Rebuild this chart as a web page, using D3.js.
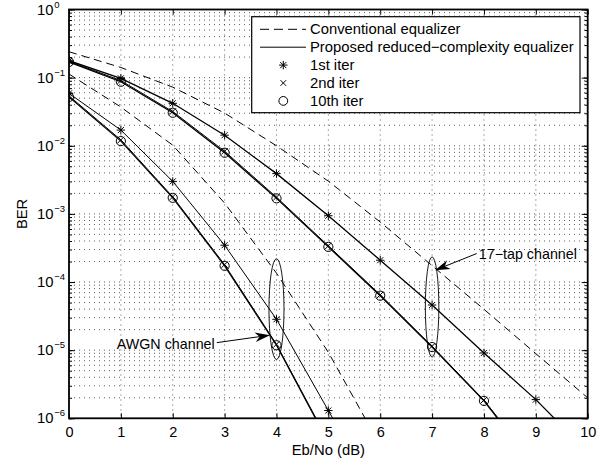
<!DOCTYPE html>
<html><head><meta charset="utf-8">
<script src="https://cdn.jsdelivr.net/npm/d3@7"></script>
<style>body{margin:0;background:#fff}svg{display:block}</style>
</head><body><svg id="c" width="611" height="464"></svg>
<script>
// ---------- data ----------
const ebno = [0,1,2,3,4,5,6,7,8,9,10];
const tapConv   = [0.24, 0.141, 0.0724, 0.0302, 0.0100, 0.00302, 7.6e-4, 1.74e-4, 3.98e-5, 8.9e-6, 2.0e-6];
const tapIter1  = [0.177, 0.0975, 0.042, 0.0143, 0.0039, 9.4e-4, 2.09e-4, 4.6e-5, 9.1e-6, 1.88e-6, 3.2e-7];
const tapIter2  = [0.174, 0.0905, 0.0318, 0.0083, 1.76e-3, 3.40e-4, 6.5e-5, 1.14e-5, 1.85e-6, 2.0e-7];
const tapIter10 = [0.170, 0.087, 0.0305, 0.0079, 1.69e-3, 3.28e-4, 6.3e-5, 1.11e-5, 1.8e-6, 1.9e-7];
const awgnConv   = [0.113, 0.037, 0.0102, 1.44e-3, 1.35e-4, 9.3e-6, 4.0e-7];
const awgnIter1  = [0.0587, 0.017, 0.0030, 3.47e-4, 2.84e-5, 1.3e-6, 6e-8];
const awgnIter2  = [0.0540, 0.0122, 1.78e-3, 1.80e-4, 1.22e-5, 4.6e-7];
const awgnIter10 = [0.0520, 0.0117, 1.72e-3, 1.73e-4, 1.18e-5, 4.4e-7];

const xTickValues = [0,1,2,3,4,5,6,7,8,9,10];
const yTickExponents = [0,-1,-2,-3,-4,-5,-6];
const legendLabels = ["Conventional equalizer", "Proposed reduced\u2212complexity equalizer", "1st iter", "2nd iter", "10th iter"];
const xLabel = "Eb/No (dB)";
const yLabel = "BER";
// annotations in data coordinates
const ellipses = [
  {x: 4, top: 2.2e-4, bottom: 7.3e-6, hw: 0.145},
  {x: 7, top: 2.34e-4, bottom: 7.9e-6, hw: 0.13}
];
const annotations = [
  {text: "AWGN channel", tx: 0.92, ty: 1.25e-5, x0: 2.85, y0: 1.29e-5, x1: 3.875, y1: 1.66e-5},
  {text: "17\u2212tap channel", tx: 7.9, ty: 2.62e-4, x0: 7.86, y0: 2.62e-4, x1: 7.056, y1: 1.49e-4}
];

// ---------- layout ----------
const L = 69, R = 587.7, T = 9.5, B = 418.3;
const FONT = "'Liberation Sans', Arial, Helvetica, sans-serif";
const svg = d3.select("#c").style("font-family", FONT);
const x = d3.scaleLinear().domain([0,10]).range([L,R]);
const y = d3.scaleLog().domain([1e-6,1]).range([B,T]);

svg.append("rect").attr("width",611).attr("height",464).attr("fill","#fff");
svg.append("defs").append("clipPath").attr("id","clip")
  .append("rect").attr("x",L).attr("y",T).attr("width",R-L).attr("height",B-T);

// minor y values
const yMinor = [];
for (let e=-6; e<0; e++) for (let m=1; m<10; m++) yMinor.push(m*Math.pow(10,e));
yMinor.push(1);

// ---------- grid ----------
const grid = svg.append("g").attr("stroke","#333").attr("stroke-width",0.8).attr("stroke-dasharray","1,4");
grid.selectAll("line.v").data(xTickValues.filter(d=>d>0&&d<10)).join("line")
  .attr("x1",d=>x(d)).attr("x2",d=>x(d)).attr("y1",T).attr("y2",B);
grid.selectAll("line.h").data(yMinor.filter(d=>d>1e-6&&d<1)).join("line")
  .attr("class","h").attr("x1",L).attr("x2",R).attr("y1",d=>y(d)).attr("y2",d=>y(d));

// ---------- axes ----------
const ax = svg.append("g");
const bottomAxis = d3.axisBottom(x).tickValues(xTickValues).tickSizeInner(-5).tickSizeOuter(0).tickFormat(d3.format("d"));
const gb = ax.append("g").attr("transform",`translate(0,${B})`).call(bottomAxis);
gb.selectAll("text").attr("y",14).attr("dy","0").attr("dominant-baseline","central").attr("font-size",14.5).attr("font-family",FONT).attr("fill","#000");
ax.append("g").attr("transform",`translate(0,${T})`).call(d3.axisTop(x).tickValues(xTickValues).tickSizeInner(-5).tickSizeOuter(0).tickFormat(""));
const majorY = yTickExponents.map(e=>Math.pow(10,e));
ax.append("g").attr("transform",`translate(${L},0)`).call(d3.axisLeft(y).tickValues(majorY).tickSizeInner(-6).tickSizeOuter(0).tickFormat(""));
ax.append("g").attr("transform",`translate(${L},0)`).call(d3.axisLeft(y).tickValues(yMinor).tickSizeInner(-3).tickSizeOuter(0).tickFormat(""));
ax.append("g").attr("transform",`translate(${R},0)`).call(d3.axisRight(y).tickValues(majorY).tickSizeInner(-6).tickSizeOuter(0).tickFormat(""));
ax.append("g").attr("transform",`translate(${R},0)`).call(d3.axisRight(y).tickValues(yMinor).tickSizeInner(-3).tickSizeOuter(0).tickFormat(""));
ax.selectAll(".domain").remove();
ax.selectAll(".tick line").attr("stroke","#000").attr("stroke-width",1);

// y tick labels 10^e
const yl = svg.append("g").attr("font-size",14.8).attr("fill","#000");
yTickExponents.forEach(e=>{
  const yy = y(Math.pow(10,e));
  yl.append("text").attr("x",53.5).attr("y",yy).attr("text-anchor","end").attr("dominant-baseline","central").text("10");
  yl.append("text").attr("x",54.3).attr("y",yy-5.5).attr("font-size",9.5).attr("dominant-baseline","central")
    .text(e===0 ? "0" : "\u2212"+Math.abs(e));
});

// frame
svg.append("rect").attr("x",L).attr("y",T).attr("width",R-L).attr("height",B-T)
  .attr("fill","none").attr("stroke","#000").attr("stroke-width",1.8);

// axis labels
svg.append("text").attr("x",(L+R)/2).attr("y",450).attr("text-anchor","middle").attr("dominant-baseline","central")
  .attr("font-size",14.8).text(xLabel);
svg.append("text").attr("transform",`translate(22,${(T+B)/2}) rotate(-90)`).attr("text-anchor","middle").attr("dominant-baseline","central")
  .attr("font-size",14.8).text(yLabel);

// ---------- series ----------
const plot = svg.append("g").attr("clip-path","url(#clip)");
const line = d3.line().x((d,i)=>x(ebno[i])).y(d=>y(d));
function drawLine(vals, dashed, w){
  plot.append("path").datum(vals).attr("d",line).attr("fill","none").attr("stroke","#000")
    .attr("stroke-width",w).attr("stroke-dasharray",dashed?"8,5":null);
}
function starPath(cx,cy,s){
  const d = s*0.72;
  return `M${cx-s},${cy}L${cx+s},${cy}M${cx},${cy-s}L${cx},${cy+s}M${cx-d},${cy-d}L${cx+d},${cy+d}M${cx-d},${cy+d}L${cx+d},${cy-d}`;
}
function xPath(cx,cy,s){
  return `M${cx-s},${cy-s}L${cx+s},${cy+s}M${cx-s},${cy+s}L${cx+s},${cy-s}`;
}
function drawMarkers(g, vals, type){
  vals.forEach((v,i)=>{
    const cx = x(ebno[i]), cy = y(v);
    if (type==="star") g.append("path").attr("d",starPath(cx,cy,4.2)).attr("stroke","#000").attr("stroke-width",1).attr("fill","none");
    else if (type==="x") g.append("path").attr("d",xPath(cx,cy,3.2)).attr("stroke","#000").attr("stroke-width",1).attr("fill","none");
    else g.append("circle").attr("cx",cx).attr("cy",cy).attr("r",4.6).attr("stroke","#000").attr("stroke-width",1).attr("fill","none");
  });
}
drawLine(tapConv, true, 1);
drawLine(awgnConv, true, 1);
drawLine(tapIter1, false, 1.3);
drawLine(tapIter2, false, 1);
drawLine(tapIter10, false, 1.3);
drawLine(awgnIter1, false, 1);
drawLine(awgnIter2, false, 1);
drawLine(awgnIter10, false, 1.15);
drawMarkers(plot, tapIter1, "star");
drawMarkers(plot, tapIter2, "x");
drawMarkers(plot, tapIter10, "circle");
drawMarkers(plot, awgnIter1, "star");
drawMarkers(plot, awgnIter2, "x");
drawMarkers(plot, awgnIter10, "circle");

// ---------- annotations ----------
const an = svg.append("g");
ellipses.forEach(e=>{
  const cy = (y(e.top)+y(e.bottom))/2, ry = (y(e.bottom)-y(e.top))/2, rx = x(e.x+e.hw)-x(e.x);
  an.append("ellipse").attr("cx",x(e.x)).attr("cy",cy).attr("rx",rx).attr("ry",ry)
    .attr("fill","none").attr("stroke","#000").attr("stroke-width",0.9);
});
annotations.forEach(a=>{
  const x0=x(a.x0), y0=y(a.y0), x1=x(a.x1), y1=y(a.y1);
  const ang = Math.atan2(y1-y0, x1-x0), len=15, hw=4.8;
  const bx = x1 - len*Math.cos(ang), by = y1 - len*Math.sin(ang);
  const mx = x1 - len*0.7*Math.cos(ang), my = y1 - len*0.7*Math.sin(ang);
  an.append("line").attr("x1",x0).attr("y1",y0).attr("x2",mx).attr("y2",my).attr("stroke","#000").attr("stroke-width",1);
  const px = -Math.sin(ang), py = Math.cos(ang);
  an.append("path").attr("d",`M${x1},${y1}L${bx+px*hw},${by+py*hw}L${mx},${my}L${bx-px*hw},${by-py*hw}Z`).attr("fill","#000");
  an.append("text").attr("x",x(a.tx)).attr("y",y(a.ty)).attr("dominant-baseline","central")
    .attr("text-anchor","start").attr("font-size",14.3).text(a.text);
});

// ---------- legend ----------
const lg = svg.append("g");
lg.append("rect").attr("x",251.7).attr("y",16.7).attr("width",328.3).attr("height",96)
  .attr("fill","#fff").attr("stroke","#000").attr("stroke-width",1.2);
const rowY = i => 29.3 + i*17.9;
legendLabels.forEach((t,i)=>{
  lg.append("text").attr("x",310).attr("y",rowY(i)).attr("dominant-baseline","central").attr("font-size",14.8).text(t);
});
lg.append("line").attr("x1",260).attr("x2",306).attr("y1",rowY(0)).attr("y2",rowY(0)).attr("stroke","#000").attr("stroke-dasharray","9,5");
lg.append("line").attr("x1",260).attr("x2",306).attr("y1",rowY(1)).attr("y2",rowY(1)).attr("stroke","#000");
lg.append("path").attr("d",starPath(283.3,rowY(2),4.2)).attr("stroke","#000").attr("fill","none");
lg.append("path").attr("d",xPath(283.3,rowY(3),2.8)).attr("stroke","#000").attr("fill","none");
lg.append("circle").attr("cx",283.3).attr("cy",rowY(4)).attr("r",4.4).attr("stroke","#000").attr("fill","none");
</script></body></html>
